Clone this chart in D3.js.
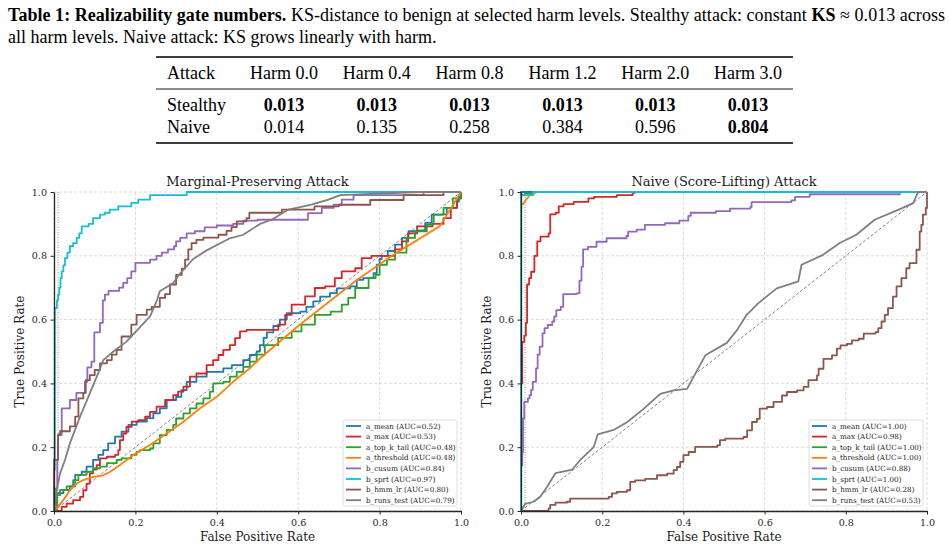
<!DOCTYPE html>
<html>
<head>
<meta charset="utf-8">
<script src="https://cdn.jsdelivr.net/npm/d3@7"></script>
<style>
  body { margin: 0; background: #fff; }
  svg { display: block; }
</style>
</head>
<body>
<div id="fig"></div>
<script>
// ---- table data ----
var harmLevels = ["Harm 0.0", "Harm 0.4", "Harm 0.8", "Harm 1.2", "Harm 2.0", "Harm 3.0"];
var stealthyKS = ["0.013", "0.013", "0.013", "0.013", "0.013", "0.013"];
var naiveKS = ["0.014", "0.135", "0.258", "0.384", "0.596", "0.804"];
var naiveBold = [false, false, false, false, false, true];

// ---- detectors ----
var detectorNames = ["a_mean", "a_max", "a_top_k_tail", "a_threshold", "b_cusum", "b_sprt", "b_hmm_lr", "b_runs_test"];
var aucStealthy = ["0.52", "0.53", "0.48", "0.48", "0.84", "0.97", "0.80", "0.79"];
var aucNaive = ["1.00", "0.98", "1.00", "1.00", "0.88", "1.00", "0.28", "0.53"];
var axisTicks = [0, 0.2, 0.4, 0.6, 0.8, 1.0];

// ---- ROC points [fpr, tpr], marginal-preserving attack ----
var mpMean = [[0,0],[0.007,0.056],[0.023,0.066],[0.039,0.077],[0.052,0.113],[0.068,0.123],[0.08,0.139],[0.096,0.16],[0.109,0.176],[0.121,0.191],[0.133,0.212],[0.15,0.233],[0.166,0.249],[0.183,0.27],[0.203,0.28],[0.228,0.291],[0.244,0.306],[0.26,0.322],[0.277,0.348],[0.30,0.358],[0.313,0.379],[0.326,0.405],[0.35,0.421],[0.375,0.436],[0.416,0.447],[0.437,0.457],[0.465,0.473],[0.481,0.489],[0.498,0.50],[0.506,0.52],[0.515,0.543],[0.523,0.56],[0.539,0.58],[0.555,0.60],[0.572,0.62],[0.605,0.625],[0.62,0.64],[0.637,0.657],[0.654,0.672],[0.678,0.683],[0.695,0.698],[0.728,0.704],[0.744,0.725],[0.76,0.73],[0.785,0.746],[0.793,0.772],[0.80,0.79],[0.805,0.80],[0.82,0.815],[0.838,0.835],[0.855,0.856],[0.871,0.877],[0.895,0.88],[0.912,0.903],[0.928,0.929],[0.953,0.93],[0.965,0.95],[0.99,0.97],[0.995,0.99],[1,1]];
var mpMax = [[0,0],[0.007,0],[0.019,0.013],[0.031,0.023],[0.047,0.034],[0.064,0.044],[0.072,0.065],[0.08,0.086],[0.088,0.118],[0.096,0.13],[0.105,0.144],[0.113,0.165],[0.13,0.17],[0.15,0.176],[0.158,0.191],[0.162,0.222],[0.17,0.243],[0.178,0.264],[0.191,0.28],[0.207,0.285],[0.224,0.296],[0.236,0.311],[0.252,0.327],[0.273,0.348],[0.293,0.363],[0.305,0.374],[0.318,0.39],[0.334,0.421],[0.35,0.431],[0.375,0.457],[0.391,0.473],[0.404,0.489],[0.416,0.505],[0.432,0.52],[0.445,0.542],[0.457,0.563],[0.473,0.568],[0.551,0.584],[0.568,0.615],[0.584,0.647],[0.617,0.673],[0.641,0.699],[0.666,0.704],[0.69,0.73],[0.707,0.751],[0.74,0.761],[0.756,0.793],[0.78,0.80],[0.838,0.82],[0.855,0.845],[0.87,0.87],[0.892,0.892],[0.93,0.90],[0.957,0.918],[0.975,0.95],[0.99,0.98],[1,1]];
var mpTopK = [[0,0],[0.007,0.05],[0.015,0.066],[0.031,0.077],[0.047,0.097],[0.06,0.113],[0.08,0.123],[0.096,0.134],[0.113,0.139],[0.13,0.15],[0.154,0.16],[0.166,0.165],[0.19,0.176],[0.203,0.186],[0.211,0.191],[0.236,0.196],[0.244,0.212],[0.26,0.238],[0.277,0.254],[0.293,0.27],[0.30,0.29],[0.318,0.306],[0.334,0.322],[0.35,0.337],[0.367,0.353],[0.383,0.374],[0.391,0.40],[0.416,0.405],[0.432,0.421],[0.449,0.436],[0.465,0.452],[0.481,0.468],[0.498,0.49],[0.518,0.52],[0.551,0.543],[0.584,0.563],[0.608,0.584],[0.641,0.615],[0.68,0.625],[0.707,0.647],[0.723,0.668],[0.74,0.699],[0.773,0.73],[0.79,0.74],[0.80,0.772],[0.818,0.788],[0.838,0.81],[0.866,0.856],[0.887,0.877],[0.916,0.898],[0.933,0.929],[0.957,0.95],[0.98,0.98],[1,1]];
var mpThreshold = [[0,0],[0.007,0.01],[0.023,0.034],[0.039,0.065],[0.056,0.086],[0.072,0.097],[0.096,0.107],[0.121,0.112],[0.138,0.123],[0.162,0.144],[0.195,0.176],[0.236,0.207],[0.277,0.243],[0.318,0.28],[0.359,0.322],[0.40,0.358],[0.44,0.405],[0.481,0.447],[0.506,0.478],[0.60,0.58],[0.74,0.72],[0.83,0.80],[0.948,0.893],[1,1]];
var mpCusum = [[0,0],[0.002,0.07],[0.008,0.16],[0.01,0.238],[0.019,0.322],[0.039,0.348],[0.055,0.37],[0.076,0.405],[0.082,0.45],[0.092,0.468],[0.099,0.56],[0.113,0.59],[0.12,0.66],[0.125,0.678],[0.134,0.69],[0.16,0.70],[0.17,0.715],[0.18,0.73],[0.19,0.751],[0.2,0.778],[0.236,0.788],[0.252,0.80],[0.265,0.81],[0.28,0.82],[0.295,0.83],[0.30,0.845],[0.31,0.856],[0.326,0.87],[0.346,0.877],[0.37,0.889],[0.40,0.895],[0.44,0.90],[0.465,0.91],[0.50,0.913],[0.624,0.934],[0.658,0.95],[0.687,0.96],[0.707,0.976],[0.736,0.99],[0.908,1.0],[1,1]];
var mpSprt = [[0,0],[0,0.13],[0.002,0.636],[0.007,0.66],[0.01,0.678],[0.013,0.70],[0.016,0.73],[0.019,0.751],[0.023,0.77],[0.027,0.793],[0.033,0.81],[0.039,0.83],[0.047,0.84],[0.056,0.856],[0.062,0.87],[0.068,0.892],[0.085,0.90],[0.096,0.918],[0.113,0.929],[0.125,0.935],[0.137,0.945],[0.158,0.955],[0.19,0.966],[0.207,0.976],[0.236,0.99],[0.326,1.0],[1,1]];
var mpHmm = [[0,0],[0,0.16],[0.01,0.24],[0.015,0.25],[0.039,0.265],[0.052,0.296],[0.06,0.353],[0.072,0.37],[0.078,0.41],[0.088,0.426],[0.1,0.442],[0.113,0.463],[0.13,0.473],[0.142,0.49],[0.154,0.505],[0.166,0.547],[0.19,0.584],[0.203,0.615],[0.228,0.631],[0.24,0.64],[0.26,0.668],[0.273,0.68],[0.285,0.71],[0.30,0.74],[0.314,0.76],[0.322,0.788],[0.33,0.82],[0.338,0.84],[0.35,0.85],[0.367,0.857],[0.404,0.866],[0.424,0.878],[0.436,0.89],[0.449,0.908],[0.473,0.918],[0.48,0.935],[0.56,0.945],[0.64,0.955],[0.70,0.96],[0.777,0.975],[0.859,0.99],[0.957,1.0],[1,1]];
var mpRuns = [[0,0],[0.007,0.066],[0.015,0.118],[0.027,0.16],[0.039,0.212],[0.064,0.296],[0.088,0.369],[0.105,0.421],[0.121,0.473],[0.146,0.50],[0.178,0.531],[0.236,0.61],[0.252,0.657],[0.26,0.689],[0.293,0.715],[0.31,0.745],[0.342,0.79],[0.375,0.817],[0.432,0.855],[0.465,0.866],[0.506,0.9],[0.535,0.913],[0.576,0.945],[0.63,0.96],[0.674,0.976],[0.703,0.99],[0.9,1.0],[1,1]];

// ---- ROC points [fpr, tpr], naive (score-lifting) attack ----
var nvMean = [[0,0],[0,1],[1,1]];
var nvMax = [[0,0],[0,0.40],[0.003,0.53],[0.008,0.55],[0.012,0.59],[0.015,0.71],[0.02,0.73],[0.025,0.75],[0.033,0.80],[0.04,0.845],[0.048,0.86],[0.068,0.87],[0.072,0.93],[0.085,0.935],[0.093,0.955],[0.105,0.962],[0.13,0.969],[0.166,0.98],[0.18,0.985],[0.236,0.99],[0.275,0.997],[0.28,1.0],[1,1]];
var nvTopK = [[0,0],[0,0.99],[0.01,0.995],[0.03,1],[1,1]];
var nvThreshold = [[0,0],[0,0.96],[0.005,0.962],[0.012,0.975],[0.022,0.99],[0.034,0.996],[0.04,1],[1,1]];
var nvCusum = [[0,0],[0,0.143],[0.003,0.185],[0.005,0.29],[0.008,0.342],[0.017,0.353],[0.021,0.363],[0.025,0.38],[0.029,0.405],[0.037,0.447],[0.041,0.49],[0.046,0.515],[0.053,0.557],[0.058,0.573],[0.066,0.583],[0.077,0.594],[0.082,0.61],[0.087,0.63],[0.098,0.64],[0.104,0.68],[0.136,0.682],[0.144,0.722],[0.149,0.766],[0.153,0.82],[0.165,0.828],[0.186,0.844],[0.211,0.855],[0.26,0.862],[0.264,0.876],[0.285,0.882],[0.305,0.897],[0.355,0.902],[0.39,0.91],[0.412,0.925],[0.418,0.935],[0.48,0.94],[0.515,0.948],[0.565,0.953],[0.568,0.968],[0.666,0.974],[0.675,0.985],[0.711,0.993],[0.933,1.0],[1,1]];
var nvSprt = [[0,0],[0,0.99],[0.03,1],[1,1]];
var nvHmm = [[0,0],[0.068,0.008],[0.072,0.019],[0.085,0.026],[0.113,0.029],[0.121,0.039],[0.216,0.044],[0.224,0.055],[0.236,0.06],[0.261,0.065],[0.269,0.091],[0.281,0.096],[0.306,0.101],[0.335,0.112],[0.36,0.117],[0.376,0.128],[0.384,0.138],[0.392,0.154],[0.40,0.175],[0.413,0.185],[0.429,0.201],[0.483,0.206],[0.49,0.222],[0.503,0.227],[0.548,0.232],[0.557,0.253],[0.569,0.279],[0.581,0.289],[0.588,0.321],[0.606,0.326],[0.622,0.342],[0.643,0.362],[0.655,0.373],[0.68,0.378],[0.696,0.389],[0.708,0.41],[0.729,0.425],[0.733,0.446],[0.745,0.477],[0.766,0.488],[0.778,0.509],[0.787,0.519],[0.803,0.524],[0.815,0.535],[0.832,0.54],[0.844,0.556],[0.873,0.561],[0.88,0.573],[0.888,0.594],[0.896,0.615],[0.904,0.636],[0.916,0.672],[0.925,0.704],[0.937,0.73],[0.949,0.761],[0.957,0.777],[0.974,0.819],[0.982,0.876],[0.986,0.897],[0.99,0.929],[0.997,0.95],[1,1]];
var nvRuns = [[0,0],[0.01,0.022],[0.031,0.029],[0.047,0.044],[0.064,0.075],[0.085,0.119],[0.126,0.13],[0.146,0.16],[0.179,0.2],[0.189,0.24],[0.228,0.254],[0.261,0.278],[0.302,0.32],[0.343,0.367],[0.376,0.378],[0.409,0.383],[0.454,0.488],[0.507,0.527],[0.532,0.567],[0.556,0.615],[0.584,0.651],[0.63,0.698],[0.683,0.72],[0.691,0.772],[0.744,0.803],[0.785,0.84],[0.826,0.866],[0.871,0.913],[0.929,0.944],[0.966,0.965],[0.978,1.0],[1,1]];

// styles per detector (same order as detectorNames)
var colors = ["#1f77b4", "#d62728", "#2ca02c", "#ff7f0e", "#9467bd", "#17becf", "#8c564b", "#7f7f7f"];
var smoothLine = [false, false, false, true, false, false, false, true];

var serif = "'DejaVu Serif', serif";
var times = "'Liberation Serif', 'Times New Roman', serif";

var svg = d3.select("#fig")
    .append("svg")
    .attr("width", 949)
    .attr("height", 548);

// ---------- caption + table ----------
var cap1 = svg.append("text")
    .attr("x", 8).attr("y", 21)
    .attr("textLength", 937).attr("lengthAdjust", "spacing")
    .style("font-family", times).style("font-size", "18px").attr("fill", "#000");
cap1.append("tspan").style("font-weight", "bold").text("Table 1: Realizability gate numbers.");
cap1.append("tspan").text(" KS-distance to benign at selected harm levels. Stealthy attack: constant ");
cap1.append("tspan").style("font-weight", "bold").text("KS");
cap1.append("tspan").text(" \u2248 0.013 across");

svg.append("text")
    .attr("x", 8).attr("y", 43)
    .style("font-family", times).style("font-size", "18px")
    .text("all harm levels. Naive attack: KS grows linearly with harm.");

var tableLeft = 156, tableRight = 793;
var colX = d3.scalePoint().domain(harmLevels).range([284, 748]);

svg.append("line").attr("x1", tableLeft).attr("x2", tableRight).attr("y1", 57).attr("y2", 57)
    .attr("stroke", "#000").attr("stroke-width", 1.6);
svg.append("line").attr("x1", tableLeft).attr("x2", tableRight).attr("y1", 89).attr("y2", 89)
    .attr("stroke", "#000").attr("stroke-width", 0.9);
svg.append("line").attr("x1", tableLeft).attr("x2", tableRight).attr("y1", 143).attr("y2", 143)
    .attr("stroke", "#000").attr("stroke-width", 1.6);

var tbl = svg.append("g").style("font-family", times).style("font-size", "18px");
tbl.append("text").attr("x", 167).attr("y", 79).text("Attack");
tbl.append("text").attr("x", 167).attr("y", 111).text("Stealthy");
tbl.append("text").attr("x", 167).attr("y", 133).text("Naive");

tbl.selectAll(".hdr").data(harmLevels).enter().append("text")
    .attr("x", d => colX(d)).attr("y", 79)
    .attr("text-anchor", "middle").text(d => d);
tbl.selectAll(".st").data(stealthyKS).enter().append("text")
    .attr("x", (d, i) => colX(harmLevels[i])).attr("y", 111)
    .attr("text-anchor", "middle").style("font-weight", "bold").text(d => d);
tbl.selectAll(".nv").data(naiveKS).enter().append("text")
    .attr("x", (d, i) => colX(harmLevels[i])).attr("y", 133)
    .attr("text-anchor", "middle")
    .style("font-weight", (d, i) => naiveBold[i] ? "bold" : "normal")
    .text(d => d);

// ---------- ROC panels ----------
function drawPanel(x0, x1, title, yLabelX, curves, aucs, legendX) {
    var top = 192, bottom = 511;
    var x = d3.scaleLinear().domain([0, 1]).range([x0, x1]);
    var y = d3.scaleLinear().domain([0, 1]).range([bottom, top]);
    var g = svg.append("g");

    // grid
    g.selectAll(".gx").data(axisTicks).enter().append("line")
        .attr("x1", d => x(d)).attr("x2", d => x(d)).attr("y1", top).attr("y2", bottom)
        .attr("stroke", "#d0d0d0").attr("stroke-width", 0.8).attr("stroke-dasharray", "3,2");
    g.selectAll(".gy").data(axisTicks).enter().append("line")
        .attr("y1", d => y(d)).attr("y2", d => y(d)).attr("x1", x0).attr("x2", x1)
        .attr("stroke", "#d0d0d0").attr("stroke-width", 0.8).attr("stroke-dasharray", "3,2");

    // chance diagonal and fpr = 0.01 marker
    g.append("line")
        .attr("x1", x(0)).attr("y1", y(0)).attr("x2", x(1)).attr("y2", y(1))
        .attr("stroke", "#666").attr("stroke-width", 0.8).attr("stroke-dasharray", "3,2");
    g.append("line")
        .attr("x1", x(0.01)).attr("x2", x(0.01)).attr("y1", top).attr("y2", bottom)
        .attr("stroke", "#888").attr("stroke-width", 0.9).attr("stroke-dasharray", "1,1.5");

    // curves
    curves.forEach(function (pts, i) {
        var line = d3.line()
            .x(d => x(d[0]))
            .y(d => y(d[1]))
            .curve(smoothLine[i] ? d3.curveLinear : d3.curveStepAfter);
        g.append("path")
            .datum(pts)
            .attr("d", line)
            .attr("fill", "none")
            .attr("stroke", colors[i])
            .attr("stroke-width", 1.8)
            .attr("stroke-linejoin", "round");
    });

    // axes
    var xAxis = d3.axisBottom(x).tickValues(axisTicks).tickFormat(d3.format(".1f"))
        .tickSize(3.5).tickSizeOuter(0).tickPadding(4.5);
    var yAxis = d3.axisLeft(y).tickValues(axisTicks).tickFormat(d3.format(".1f"))
        .tickSize(3.5).tickSizeOuter(0).tickPadding(3.5);

    var gx = g.append("g").attr("transform", `translate(0, ${bottom})`).call(xAxis);
    var gy = g.append("g").attr("transform", `translate(${x0}, 0)`).call(yAxis);
    [gx, gy].forEach(function (a) {
        a.select(".domain").attr("stroke", "#262626").attr("stroke-width", 1.3);
        a.selectAll(".tick line").attr("stroke", "#262626").attr("stroke-width", 1);
        a.selectAll(".tick text")
            .style("font-family", serif).style("font-size", "9.6px").attr("fill", "#262626");
    });

    // title and labels
    g.append("text")
        .attr("x", (x0 + x1) / 2).attr("y", 186)
        .attr("text-anchor", "middle")
        .style("font-family", serif).style("font-size", "13px").attr("fill", "#1a1a1a")
        .text(title);
    g.append("text")
        .attr("x", (x0 + x1) / 2).attr("y", 541)
        .attr("text-anchor", "middle")
        .style("font-family", serif).style("font-size", "12px").attr("fill", "#1a1a1a")
        .text("False Positive Rate");
    g.append("text")
        .attr("transform", `translate(${yLabelX}, ${(top + bottom) / 2}) rotate(-90)`)
        .attr("text-anchor", "middle")
        .style("font-family", serif).style("font-size", "12px").attr("fill", "#1a1a1a")
        .text("True Positive Rate");

    // legend
    var lg = g.append("g").attr("transform", `translate(${legendX}, 420)`);
    lg.append("rect")
        .attr("width", 114).attr("height", 86).attr("rx", 2)
        .attr("fill", "#fff").attr("fill-opacity", 0.85)
        .attr("stroke", "#d6d6d6").attr("stroke-width", 0.8);
    var rows = lg.selectAll(".row").data(detectorNames).enter().append("g")
        .attr("transform", (d, i) => `translate(0, ${6 + i * 10.6})`);
    rows.append("line")
        .attr("x1", 3).attr("x2", 18)
        .attr("stroke", (d, i) => colors[i]).attr("stroke-width", 1.8);
    rows.append("text")
        .attr("x", 23).attr("dy", "0.35em")
        .style("font-family", serif).style("font-size", "7.2px").attr("fill", "#1a1a1a")
        .text((d, i) => `${d} (AUC=${aucs[i]})`);
}

drawPanel(54, 461, "Marginal-Preserving Attack", 24,
    [mpMean, mpMax, mpTopK, mpThreshold, mpCusum, mpSprt, mpHmm, mpRuns], aucStealthy, 343);
drawPanel(521, 927, "Naive (Score-Lifting) Attack", 491,
    [nvMean, nvMax, nvTopK, nvThreshold, nvCusum, nvSprt, nvHmm, nvRuns], aucNaive, 809);
</script>
</body>
</html>
